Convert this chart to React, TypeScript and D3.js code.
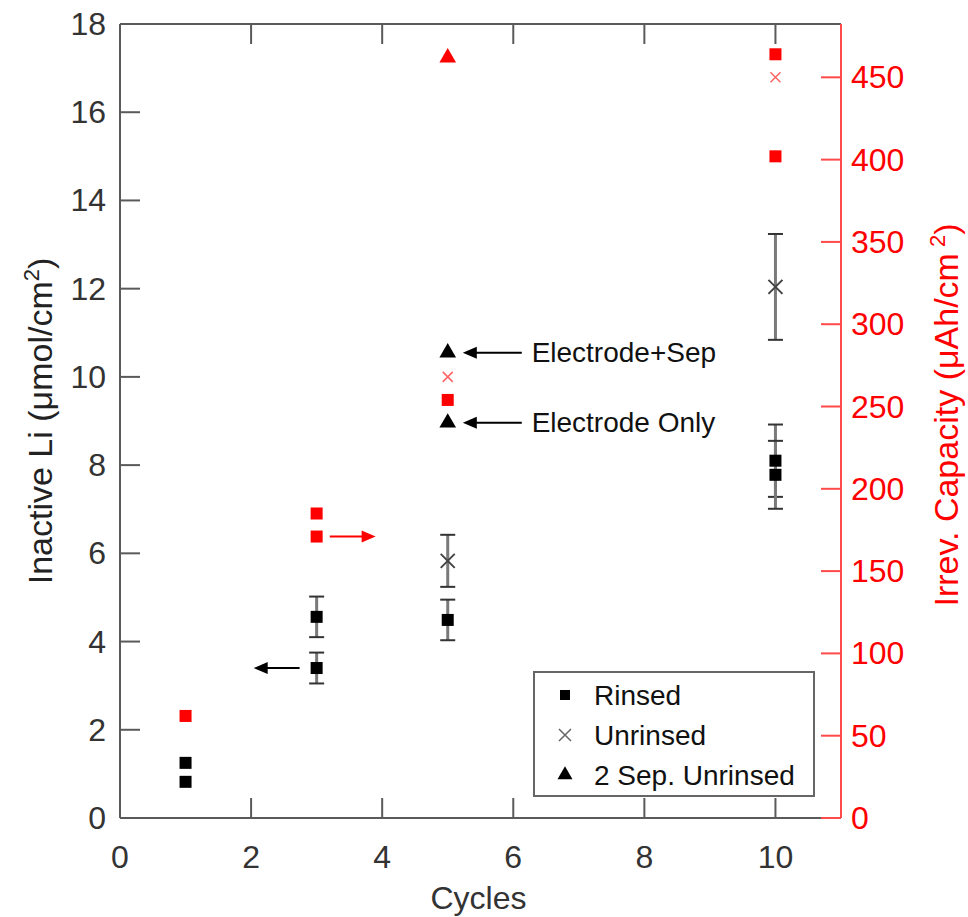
import React from "react";
import * as d3 from "d3";

// ---------- data ----------
const X_TICKS = [0, 2, 4, 6, 8, 10];
const Y_TICKS = [0, 2, 4, 6, 8, 10, 12, 14, 16, 18];
const R_TICKS = [0, 50, 100, 150, 200, 250, 300, 350, 400, 450];

// Inactive Li (left axis)
const rinsedCycles = [1, 1, 3, 3, 5, 10, 10];
const rinsedLi = [1.25, 0.82, 4.56, 3.4, 4.49, 8.1, 7.78];
const rinsedErr = [0, 0, 0.46, 0.35, 0.46, 0.82, 0.77];

const unrinsedCycles = [5, 10];
const unrinsedLi = [5.83, 12.04];
const unrinsedErr = [0.59, 1.2];

const sepCycles = [5, 5];
const sepLi = [10.55, 8.96];

// Irrev. capacity (right axis)
const capRinsedCycles = [1, 3, 3, 5, 10, 10];
const capRinsed = [62, 185, 171, 254, 464, 402];
const capUnrinsedCycles = [5, 10];
const capUnrinsed = [268, 450];
const capSepCycles = [5];
const capSep = [462];

// annotations (data coordinates)
const annoText = ["Electrode+Sep", "Electrode Only"];
const annoY = [10.55, 8.96];
const annoArrowFrom = 6.13;
const annoArrowTo = 5.23;
const annoTextX = 6.28;

const FONT = "'Liberation Sans', Arial, Helvetica, sans-serif";
const W = 968;
const H = 917;

const x = d3.scaleLinear().domain([0, 11]).range([120, 841]);
const y = d3.scaleLinear().domain([0, 18]).range([818, 24]);
const yR = d3.scaleLinear().domain([0, 18 * 26.8]).range([818, 24]);

const AX = "#5a5a5a";
const RED = "#ff0000";
const RED_AX = "#ff4a4a";

function Square({ cx, cy, s, fill }: { cx: number; cy: number; s: number; fill: string }) {
  return <rect x={cx - s / 2} y={cy - s / 2} width={s} height={s} fill={fill} />;
}
function Cross({ cx, cy, s, stroke, w }: { cx: number; cy: number; s: number; stroke: string; w: number }) {
  const h = s / 2;
  return (
    <path
      d={`M${cx - h},${cy - h}L${cx + h},${cy + h}M${cx - h},${cy + h}L${cx + h},${cy - h}`}
      stroke={stroke}
      strokeWidth={w}
      fill="none"
    />
  );
}
const triPath = d3.symbol().type(d3.symbolTriangle).size(120)();
function Tri({ cx, cy, fill, scale = 1 }: { cx: number; cy: number; fill: string; scale?: number }) {
  return <path d={triPath as string} transform={`translate(${cx},${cy}) scale(${scale})`} fill={fill} />;
}
function ErrBar({ cx, lo, hi }: { cx: number; lo: number; hi: number }) {
  return (
    <g>
      <line x1={cx} x2={cx} y1={lo} y2={hi} stroke="#7a7a7a" strokeWidth={3} />
      <line x1={cx - 7.5} x2={cx + 7.5} y1={lo} y2={lo} stroke="#333" strokeWidth={2} />
      <line x1={cx - 7.5} x2={cx + 7.5} y1={hi} y2={hi} stroke="#333" strokeWidth={2} />
    </g>
  );
}
function Arrow({ x1, x2, yy, color }: { x1: number; x2: number; yy: number; color: string }) {
  const dir = x2 > x1 ? 1 : -1;
  const hl = 14;
  const hw = 6;
  return (
    <g>
      <line x1={x1} x2={x2 - dir * hl + dir * 1} y1={yy} y2={yy} stroke={color} strokeWidth={2} />
      <path d={`M${x2},${yy}L${x2 - dir * hl},${yy - hw}L${x2 - dir * hl},${yy + hw}Z`} fill={color} />
    </g>
  );
}

export default function App() {
  const x0 = x.range()[0];
  const x1 = x.range()[1];
  const yb = y.range()[0];
  const yt = y.range()[1];
  const TL = 20;

  return (
    <svg
      width={W}
      height={H}
      viewBox={`0 0 ${W} ${H}`}
      style={{ position: "absolute", left: 0, top: 0, background: "#fff" }}
      fontFamily={FONT}
    >
      <rect width={W} height={H} fill="#fff" />

      {/* frame */}
      <line x1={x0} x2={x0} y1={yt} y2={yb} stroke={AX} strokeWidth={2} />
      <line x1={x0} x2={x1} y1={yb} y2={yb} stroke={AX} strokeWidth={2} />
      <line x1={x0} x2={x1} y1={yt} y2={yt} stroke={AX} strokeWidth={2} />
      <line x1={x1} x2={x1} y1={yt} y2={yb} stroke={RED_AX} strokeWidth={2} />

      {/* x ticks */}
      {X_TICKS.map((t) => (
        <g key={"xt" + t}>
          <line x1={x(t)} x2={x(t)} y1={yb} y2={yb - TL} stroke={AX} strokeWidth={2} />
          <line x1={x(t)} x2={x(t)} y1={yt} y2={yt + TL} stroke={AX} strokeWidth={2} />
          <text x={x(t)} y={857} textAnchor="middle" dominantBaseline="central" fontSize={32} fill="#333">
            {t}
          </text>
        </g>
      ))}
      <text x={(x0 + x1) / 2 - 2} y={898} textAnchor="middle" dominantBaseline="central" fontSize={32} fill="#333">
        Cycles
      </text>

      {/* left ticks */}
      {Y_TICKS.map((t) => (
        <g key={"yt" + t}>
          <line x1={x0} x2={x0 + TL} y1={y(t)} y2={y(t)} stroke={AX} strokeWidth={2} />
          <text x={106} y={y(t)} textAnchor="end" dominantBaseline="central" fontSize={32} fill="#333">
            {t}
          </text>
        </g>
      ))}
      <text
        transform={`translate(52,${(yt + yb) / 2}) rotate(-90)`}
        textAnchor="middle"
        fontSize={34}
        fill="#222"
      >
        Inactive Li (μmol/cm
        <tspan dy={-13} fontSize={22}>2</tspan>
        <tspan dy={13}>)</tspan>
      </text>

      {/* right ticks */}
      {R_TICKS.map((t) => (
        <g key={"rt" + t}>
          <line x1={x1} x2={x1 - TL} y1={yR(t)} y2={yR(t)} stroke={RED_AX} strokeWidth={2} />
          <text x={851} y={yR(t)} textAnchor="start" dominantBaseline="central" fontSize={32} fill={RED}>
            {t}
          </text>
        </g>
      ))}
      <text
        transform={`translate(958,415) rotate(-90)`}
        textAnchor="middle"
        fontSize={34}
        fill={RED}
      >
        Irrev. Capacity (μAh/cm
        <tspan dx={6} dy={-13} fontSize={22}>2</tspan>
        <tspan dy={13}>)</tspan>
      </text>

      {/* error bars */}
      {rinsedCycles.map((c, i) =>
        rinsedErr[i] > 0 ? (
          <ErrBar key={"re" + i} cx={x(c)} lo={y(rinsedLi[i] - rinsedErr[i])} hi={y(rinsedLi[i] + rinsedErr[i])} />
        ) : null
      )}
      {unrinsedCycles.map((c, i) => (
        <ErrBar key={"ue" + i} cx={x(c)} lo={y(unrinsedLi[i] - unrinsedErr[i])} hi={y(unrinsedLi[i] + unrinsedErr[i])} />
      ))}

      {/* left-axis markers */}
      {rinsedCycles.map((c, i) => (
        <Square key={"rs" + i} cx={x(c)} cy={y(rinsedLi[i])} s={12} fill="#000" />
      ))}
      {unrinsedCycles.map((c, i) => (
        <Cross key={"ux" + i} cx={x(c)} cy={y(unrinsedLi[i])} s={14} stroke="#444" w={2} />
      ))}
      {sepCycles.map((c, i) => (
        <Tri key={"st" + i} cx={x(c)} cy={y(sepLi[i])} fill="#000" />
      ))}

      {/* right-axis markers */}
      {capRinsedCycles.map((c, i) => (
        <Square key={"crs" + i} cx={x(c)} cy={yR(capRinsed[i])} s={12} fill={RED} />
      ))}
      {capUnrinsedCycles.map((c, i) => (
        <Cross key={"cux" + i} cx={x(c)} cy={yR(capUnrinsed[i])} s={10} stroke="#ff6464" w={1.5} />
      ))}
      {capSepCycles.map((c, i) => (
        <Tri key={"cst" + i} cx={x(c)} cy={yR(capSep[i])} fill={RED} />
      ))}

      {/* axis-pointing arrows */}
      <Arrow x1={x(2.74)} x2={x(2.04)} yy={y(3.4)} color="#000" />
      <Arrow x1={x(3.2)} x2={x(3.9)} yy={yR(171)} color={RED} />

      {/* electrode annotations */}
      {annoText.map((t, i) => (
        <g key={"an" + i}>
          <Arrow x1={x(annoArrowFrom)} x2={x(annoArrowTo)} yy={y(annoY[i])} color="#000" />
          <text x={x(annoTextX)} y={y(annoY[i])} dominantBaseline="central" fontSize={28} fill="#111">
            {t}
          </text>
        </g>
      ))}

      {/* legend */}
      <g>
        <rect x={534} y={672} width={280} height={124} fill="#fff" stroke="#666" strokeWidth={2} />
        <Square cx={565} cy={695} s={10} fill="#000" />
        <text x={594} y={695} dominantBaseline="central" fontSize={28} fill="#111">Rinsed</text>
        <Cross cx={565} cy={735} s={12} stroke="#666" w={1.5} />
        <text x={594} y={735} dominantBaseline="central" fontSize={28} fill="#111">Unrinsed</text>
        <Tri cx={565} cy={775} fill="#000" scale={0.9} />
        <text x={594} y={775} dominantBaseline="central" fontSize={28} fill="#111">2 Sep. Unrinsed</text>
      </g>
    </svg>
  );
}
